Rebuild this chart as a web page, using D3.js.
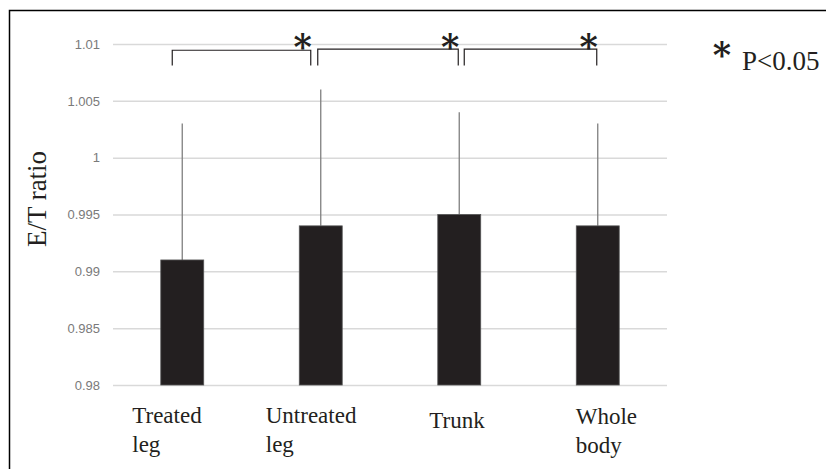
<!DOCTYPE html>
<html lang="en">

<head>
    <meta charset="UTF-8">
    <title>E/T ratio</title>
    <script src="https://d3js.org/d3.v7.min.js"></script>
    <style>
        body {
            margin: 0;
            background: white;
        }

        .serif {
            font-family: "Liberation Serif", "Times New Roman", serif;
        }

        .star {
            font-family: "DejaVu Serif", serif;
            font-weight: bold;
        }
    </style>
</head>

<body>
    <div id="chart"></div>
    <script>
        // Chart values
        const categories = ["Treated leg", "Untreated leg", "Trunk", "Whole body"];
        const labelLines = [["Treated", "leg"], ["Untreated", "leg"], ["Trunk"], ["Whole", "body"]];
        const means = [0.991, 0.994, 0.995, 0.994];
        const errors = [0.012, 0.012, 0.009, 0.009];
        const yTicks = [0.98, 0.985, 0.99, 0.995, 1, 1.005, 1.01];
        // significance brackets: [from category, to category]
        const brackets = [["Treated leg", "Untreated leg"], ["Untreated leg", "Trunk"], ["Trunk", "Whole body"]];

        const width = 826;
        const height = 469;

        const svg = d3.select("#chart").append("svg")
            .attr("width", width)
            .attr("height", height);

        // Set up scales
        const x = d3.scaleBand()
            .domain(categories)
            .range([113, 667])
            .paddingInner(0.69)
            .paddingOuter(0.345);

        const y = d3.scaleLinear()
            .domain([0.98, 1.01])
            .range([385, 44]);

        // Frame (top and left edges only)
        svg.append("path")
            .attr("d", `M9.5,${height}V10.5H${width}`)
            .attr("fill", "none")
            .attr("stroke", "#000")
            .attr("stroke-width", 1.5);

        // Gridlines + y labels
        const yAxis = svg.append("g")
            .attr("transform", "translate(113,0)")
            .call(d3.axisLeft(y)
                .tickValues(yTicks)
                .tickFormat(d => String(d))
                .tickSize(-554)
                .tickPadding(13));
        yAxis.select(".domain").remove();
        yAxis.selectAll(".tick line")
            .attr("stroke", "#d9d9d9")
            .attr("stroke-width", 1.5);
        yAxis.selectAll(".tick text")
            .attr("fill", "#7a7a7a")
            .attr("font-family", "Liberation Sans, Arial, sans-serif")
            .attr("font-size", 13);

        // Y title
        svg.append("text")
            .attr("class", "serif")
            .attr("transform", "translate(46,199) rotate(-90)")
            .attr("text-anchor", "middle")
            .attr("font-size", 27)
            .attr("fill", "#231f20")
            .text("E/T ratio");

        const bw = x.bandwidth();
        const cx = d => x(d) + bw / 2;

        // Error bars (upper only)
        svg.append("g")
            .selectAll("line")
            .data(categories)
            .join("line")
            .attr("x1", d => cx(d))
            .attr("x2", d => cx(d))
            .attr("y1", (d, i) => y(means[i]))
            .attr("y2", (d, i) => y(means[i] + errors[i]))
            .attr("stroke", "#7f7f7f")
            .attr("stroke-width", 1.3);

        // Bars
        svg.append("g")
            .selectAll("rect")
            .data(categories)
            .join("rect")
            .attr("x", d => x(d))
            .attr("width", bw)
            .attr("y", (d, i) => y(means[i]))
            .attr("height", (d, i) => y(0.98) - y(means[i]))
            .attr("fill", "#231f20")
            .attr("stroke", "#555")
            .attr("stroke-width", 0.8);

        // X labels (left aligned text boxes)
        const labelShift = [-50, -55, -30, -22];
        const labelTop = [423, 423, 428, 424];
        const xLabels = svg.append("g")
            .selectAll("text")
            .data(categories)
            .join("text")
            .attr("class", "serif")
            .attr("x", (d, i) => cx(d) + labelShift[i])
            .attr("y", (d, i) => labelTop[i])
            .attr("font-size", 23)
            .attr("fill", "#231f20");
        xLabels.selectAll("tspan")
            .data((d, i) => labelLines[i].map(t => ({ t, x: cx(d) + labelShift[i] })))
            .join("tspan")
            .attr("x", d => d.x)
            .attr("dy", (d, j) => j === 0 ? 0 : 29)
            .text(d => d.t);

        // Significance brackets
        const bracketOffsets = [[-10, -10], [-3, -1], [5, -1]];
        const bracketLevel = [1.00945, 1.00955, 1.00955];
        const bracketFoot = 1.0081;
        const bg = svg.append("g");
        brackets.forEach(([a, b], i) => {
            const x0 = cx(a) + bracketOffsets[i][0];
            const x1 = cx(b) + bracketOffsets[i][1];
            bg.append("path")
                .attr("d", `M${x0},${y(bracketFoot)}V${y(bracketLevel[i])}H${x1}V${y(bracketFoot)}`)
                .attr("fill", "none")
                .attr("stroke", "#231f20")
                .attr("stroke-width", 1.2);
            bg.append("text")
                .attr("class", "star")
                .attr("x", x1 - 8)
                .attr("y", 59)
                .attr("text-anchor", "middle")
                .attr("font-size", 35)
                .attr("fill", "#231f20")
                .text("*");
        });

        // Legend
        svg.append("text")
            .attr("class", "star")
            .attr("x", 722)
            .attr("y", 67)
            .attr("text-anchor", "middle")
            .attr("font-size", 35)
            .attr("fill", "#231f20")
            .text("*");
        svg.append("text")
            .attr("class", "serif")
            .attr("x", 742)
            .attr("y", 70)
            .attr("font-size", 27)
            .attr("fill", "#231f20")
            .text("P<0.05");
    </script>
</body>

</html>
